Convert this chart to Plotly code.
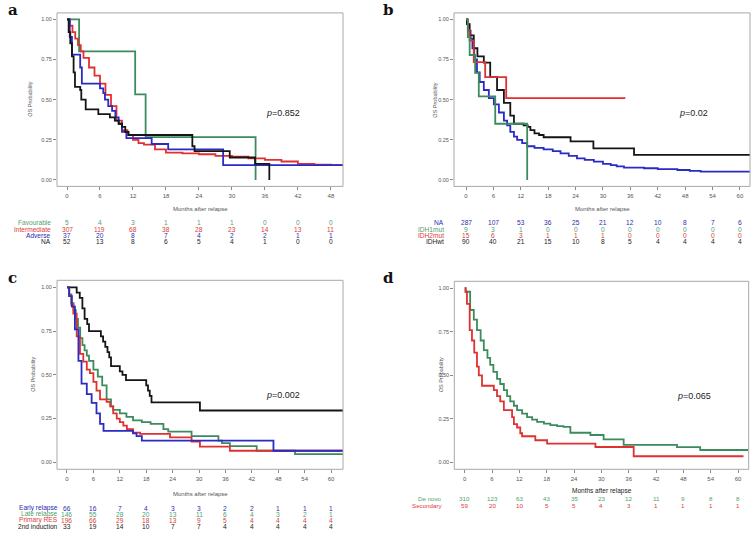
import plotly.graph_objects as go

W, H = 754, 536          # picture size

GREEN = "#3b8b5c"
RED = "#e03030"
BLUE = "#2a2ac4"
BLACK = "#151515"
GREEN_T = "#4f9f70"
RED_T = "#e03a3a"
BLUE_T = "#2c2cb0"
BLACK_T = "#222222"

# ---------------- Panel a data ----------------
a_ticks = [0, 6, 12, 18, 24, 30, 36, 42, 48]
a_groups = ["Favourable", "Intermediate", "Adverse", "NA"]
a_fav_t = [0, 2.2, 12.4, 14.3, 34.3]
a_fav_s = [1.0, 0.8, 0.533, 0.267, 0.0]
a_int_t = [0, 0.5, 1, 1.5, 2, 2.5, 3, 4, 5, 6, 7, 8, 9, 10, 11, 12, 13, 14, 16, 18, 21, 24, 27, 30, 33, 36, 39, 42, 45, 48, 50.2]
a_int_s = [1.0, 0.96, 0.92, 0.88, 0.84, 0.80, 0.76, 0.70, 0.65, 0.60, 0.53, 0.46, 0.37, 0.31, 0.28, 0.25, 0.23, 0.22, 0.19, 0.17, 0.165, 0.16, 0.15, 0.145, 0.135, 0.125, 0.115, 0.10, 0.095, 0.093, 0.093]
a_adv_t = [0, 0.5, 0.9, 2.4, 2.7, 6.0, 6.6, 6.9, 7.5, 8.2, 8.8, 9.4, 10.0, 10.8, 15.4, 18.4, 28.4, 50.2]
a_adv_s = [1.0, 0.89, 0.78, 0.70, 0.60, 0.57, 0.54, 0.50, 0.46, 0.43, 0.39, 0.35, 0.30, 0.26, 0.224, 0.19, 0.093, 0.093]
a_na_t = [0, 0.3, 0.6, 0.9, 1.2, 1.45, 2.4, 2.6, 3.4, 5.7, 7.8, 8.7, 9.4, 10.0, 10.6, 11.2, 22.8, 23.2, 29.6, 34.2, 36.8]
a_na_s = [1.0, 0.92, 0.85, 0.77, 0.67, 0.58, 0.56, 0.50, 0.44, 0.41, 0.39, 0.37, 0.35, 0.33, 0.30, 0.28, 0.21, 0.18, 0.14, 0.10, 0.0]
a_risk_fav = [5, 4, 3, 1, 1, 1, 0, 0, 0]
a_risk_int = [307, 119, 68, 38, 28, 23, 14, 13, 11]
a_risk_adv = [37, 20, 8, 7, 4, 2, 2, 1, 1]
a_risk_na = [52, 13, 8, 6, 5, 4, 1, 0, 0]

# ---------------- Panel b data ----------------
b_ticks = [0, 6, 12, 18, 24, 30, 36, 42, 48, 54, 60]
b_groups = ["NA", "IDH1mut", "IDH2mut", "IDHwt"]
b_na_t = [0, 0.2, 0.6, 1.0, 1.4, 1.8, 2.4, 3.0, 3.9, 5.0, 6.1, 7.2, 8.3, 9.0, 9.7, 10.5, 11.2, 12.3, 13.4, 15, 17, 19, 20.7, 22.5, 24.3, 26, 28, 30, 31.7, 33, 34.6, 39, 42, 46.3, 49, 51.4, 62.2]
b_na_s = [1.0, 0.97, 0.93, 0.88, 0.82, 0.75, 0.67, 0.61, 0.56, 0.51, 0.47, 0.42, 0.37, 0.34, 0.30, 0.27, 0.25, 0.23, 0.21, 0.20, 0.19, 0.18, 0.166, 0.15, 0.135, 0.125, 0.114, 0.10, 0.093, 0.085, 0.077, 0.073, 0.068, 0.062, 0.057, 0.052, 0.052]
b_idh1_t = [0, 0.4, 0.8, 2.0, 2.8, 6.4, 13.4]
b_idh1_s = [1.0, 0.889, 0.778, 0.667, 0.52, 0.35, 0.0]
b_idh2_t = [0, 0.4, 0.8, 1.7, 4.2, 8.8, 34.9]
b_idh2_s = [1.0, 0.933, 0.867, 0.733, 0.64, 0.51, 0.51]
b_wt_t = [0, 0.2, 0.8, 1.7, 2.5, 3.9, 5.3, 6.8, 8.3, 9.7, 10.5, 12.6, 13.5, 14.1, 15.0, 16.0, 17.0, 22.9, 27.9, 36.8, 62.2]
b_wt_s = [1.0, 0.97, 0.90, 0.82, 0.77, 0.73, 0.64, 0.56, 0.48, 0.40, 0.35, 0.34, 0.33, 0.31, 0.29, 0.28, 0.266, 0.24, 0.197, 0.156, 0.156]
b_risk_na = [287, 107, 53, 36, 25, 21, 12, 10, 8, 7, 6]
b_risk_idh1 = [9, 3, 1, 0, 0, 0, 0, 0, 0, 0, 0]
b_risk_idh2 = [15, 6, 3, 1, 1, 1, 0, 0, 0, 0, 0]
b_risk_wt = [90, 40, 21, 15, 10, 8, 5, 4, 4, 4, 4]

# ---------------- Panel c data ----------------
c_ticks = [0, 6, 12, 18, 24, 30, 36, 42, 48, 54, 60]
c_groups = ["Early relapse", "Late relapse", "Primary RES", "2nd induction"]
c_early_t = [0, 0.5, 1.1, 1.8, 2.6, 3.3, 4.5, 5.6, 6.7, 7.5, 8.3, 15.0, 15.8, 17.0, 46.9, 62.7]
c_early_s = [1.0, 0.95, 0.89, 0.76, 0.58, 0.45, 0.39, 0.34, 0.28, 0.22, 0.18, 0.165, 0.15, 0.124, 0.066, 0.066]
c_late_t = [0, 0.5, 1.0, 1.5, 2.0, 2.5, 3.0, 3.5, 4.0, 4.5, 5.0, 6.0, 7.0, 8.0, 9.0, 10.0, 10.5, 12.0, 13.5, 15.0, 17.0, 19.0, 21.9, 23.0, 28.3, 34.4, 35.2, 37.0, 43.1, 51.8, 62.7]
c_late_s = [1.0, 0.96, 0.91, 0.87, 0.82, 0.77, 0.71, 0.67, 0.64, 0.61, 0.58, 0.53, 0.49, 0.44, 0.36, 0.32, 0.30, 0.28, 0.26, 0.24, 0.23, 0.22, 0.19, 0.175, 0.15, 0.124, 0.11, 0.093, 0.066, 0.047, 0.047]
c_prim_t = [0, 0.5, 1.0, 1.44, 2.2, 2.95, 3.7, 4.5, 5.2, 6.0, 6.7, 7.5, 9.0, 9.8, 10.5, 11.3, 12.0, 12.8, 13.6, 15.0, 16.6, 23.4, 28.3, 30.2, 37.0, 62.7]
c_prim_s = [1.0, 0.95, 0.90, 0.85, 0.72, 0.62, 0.575, 0.53, 0.51, 0.46, 0.41, 0.36, 0.345, 0.32, 0.28, 0.25, 0.23, 0.21, 0.19, 0.17, 0.162, 0.143, 0.118, 0.09, 0.066, 0.066]
c_2nd_t = [0, 2.2, 2.9, 3.5, 4.0, 4.6, 5.0, 7.7, 8.2, 8.7, 9.2, 9.6, 10.0, 12.0, 12.6, 13.4, 18.0, 18.4, 18.8, 19.2, 30.2, 62.7]
c_2nd_s = [1.0, 0.97, 0.94, 0.88, 0.82, 0.79, 0.75, 0.72, 0.69, 0.66, 0.63, 0.60, 0.55, 0.52, 0.50, 0.47, 0.44, 0.41, 0.38, 0.343, 0.296, 0.296]
c_risk_early = [66, 16, 7, 4, 3, 3, 2, 2, 1, 1, 1]
c_risk_late = [146, 55, 28, 20, 13, 11, 6, 4, 3, 2, 1]
c_risk_prim = [196, 66, 29, 18, 13, 9, 5, 4, 4, 4, 4]
c_risk_2nd = [33, 19, 14, 10, 7, 7, 4, 4, 4, 4, 4]

# ---------------- Panel d data ----------------
d_ticks = [0, 6, 12, 18, 24, 30, 36, 42, 48, 54, 60]
d_groups = ["De novo", "Secondary"]
d_dn_t = [0, 0.2, 1.2, 2.0, 2.7, 3.5, 4.2, 5.0, 5.6, 6.3, 7.1, 7.8, 8.6, 9.3, 10.0, 10.8, 11.5, 12.6, 13.7, 14.8, 15.9, 17.4, 18.8, 20.3, 21.7, 23.2, 27.6, 30.5, 34.9, 46.6, 51.7, 62.3]
d_dn_s = [1.0, 0.98, 0.875, 0.82, 0.76, 0.70, 0.645, 0.60, 0.56, 0.52, 0.48, 0.45, 0.415, 0.38, 0.35, 0.325, 0.30, 0.28, 0.26, 0.245, 0.233, 0.222, 0.214, 0.208, 0.204, 0.17, 0.157, 0.132, 0.10, 0.087, 0.071, 0.071]
d_sec_t = [0, 0.2, 0.5, 1.1, 1.6, 2.1, 2.7, 3.1, 3.8, 6.4, 7.1, 7.8, 8.6, 10.4, 10.8, 11.5, 12.2, 12.6, 15.5, 18.1, 28.7, 37.1, 61.2]
d_sec_s = [1.0, 0.98, 0.91, 0.76, 0.70, 0.63, 0.55, 0.50, 0.44, 0.415, 0.38, 0.35, 0.30, 0.26, 0.22, 0.20, 0.167, 0.15, 0.127, 0.107, 0.088, 0.035, 0.035]
d_risk_dn = [310, 123, 63, 43, 35, 23, 12, 11, 9, 8, 8]
d_risk_sec = [59, 20, 10, 5, 5, 4, 3, 1, 1, 1, 1]

p_values = {"a": "0.852", "b": "0.02", "c": "0.002", "d": "0.065"}

# ---------------- figure building ----------------
def fx(px):
    return px / W

def fy(py):
    return 1 - py / H

FONT = "Liberation Sans, Arial, sans-serif"
TBL = 6.6

panels = [
    dict(key="a", n="", xpx=(57, 343), ypx=(12.9, 186.4), xr=(-1.82, 50.2), ticks=a_ticks,
         curves=[(a_fav_t, a_fav_s, GREEN), (a_int_t, a_int_s, RED), (a_adv_t, a_adv_s, BLUE), (a_na_t, a_na_s, BLACK)],
         table=[(a_groups[0], a_risk_fav, GREEN_T), (a_groups[1], a_risk_int, RED_T), (a_groups[2], a_risk_adv, BLUE_T), (a_groups[3], a_risk_na, BLACK_T)],
         rows_y=[222.7, 229, 235.3, 241.8], lab_x=53.5, xt_y=209, letter=(6, 10), ytitle_x=30, p=(283, 113), boldtitle=False, tsize=TBL),
    dict(key="b", n="2", xpx=(454, 750), ypx=(12.9, 186.4), xr=(-2.63, 62.2), ticks=b_ticks,
         curves=[(b_na_t, b_na_s, BLUE), (b_wt_t, b_wt_s, BLACK), (b_idh2_t, b_idh2_s, RED), (b_idh1_t, b_idh1_s, GREEN)],
         table=[(b_groups[0], b_risk_na, BLUE_T), (b_groups[1], b_risk_idh1, GREEN_T), (b_groups[2], b_risk_idh2, RED_T), (b_groups[3], b_risk_wt, BLACK_T)],
         rows_y=[222.7, 229, 235.3, 241.8], lab_x=445.5, xt_y=209, letter=(381, 10), ytitle_x=435, p=(693, 113), boldtitle=False, tsize=TBL),
    dict(key="c", n="3", xpx=(57, 343), ypx=(280.3, 469.3), xr=(-2.27, 62.7), ticks=c_ticks,
         curves=[(c_2nd_t, c_2nd_s, BLACK), (c_late_t, c_late_s, GREEN), (c_prim_t, c_prim_s, RED), (c_early_t, c_early_s, BLUE)],
         table=[(c_groups[0], c_risk_early, BLUE_T), (c_groups[1], c_risk_late, GREEN_T), (c_groups[2], c_risk_prim, RED_T), (c_groups[3], c_risk_2nd, BLACK_T)],
         rows_y=[508.3, 514.3, 520.3, 526.7], lab_x=59.5, xt_y=494, letter=(6, 278), ytitle_x=33, p=(283, 395), boldtitle=False, tsize=TBL),
    dict(key="d", n="4", xpx=(454.3, 748.7), ypx=(281.3, 469.3), xr=(-2.28, 62.35), ticks=d_ticks,
         curves=[(d_dn_t, d_dn_s, GREEN), (d_sec_t, d_sec_s, RED)],
         table=[(d_groups[0], d_risk_dn, GREEN_T), (d_groups[1], d_risk_sec, RED_T)],
         rows_y=[498.6, 505.2], lab_x=444, xt_y=491, letter=(381, 278), ytitle_x=441, p=(694, 396), boldtitle=True, tsize=6.2),
]

fig = go.Figure()
annotations = []
shapes = []
layout_axes = {}

for P in panels:
    n = P["n"]
    xa = "x" + n
    ya = "y" + n
    for t, s, col in P["curves"]:
        fig.add_trace(go.Scatter(x=t, y=s, mode="lines", line=dict(color=col, width=1.8, shape="hv"),
                                 xaxis=xa, yaxis=ya, showlegend=False, hoverinfo="skip"))
    layout_axes["xaxis" + n] = dict(
        domain=[fx(P["xpx"][0]), fx(P["xpx"][1])], range=list(P["xr"]), anchor=ya,
        showgrid=False, zeroline=False, showline=False, ticks="outside", ticklen=3, tickwidth=1,
        tickcolor="#888888", tickvals=P["ticks"], ticktext=[str(v) for v in P["ticks"]],
        tickfont=dict(size=6, color="#555555", family=FONT))
    layout_axes["yaxis" + n] = dict(
        domain=[fy(P["ypx"][1]), fy(P["ypx"][0])], range=[-0.04, 1.04], anchor=xa,
        showgrid=False, zeroline=False, showline=False, ticks="outside", ticklen=3, tickwidth=1,
        tickcolor="#888888", tickvals=[0, 0.25, 0.5, 0.75, 1.0],
        ticktext=["0.00", "0.25", "0.50", "0.75", "1.00"],
        tickfont=dict(size=5.5, color="#555555", family=FONT))
    shapes.append(dict(type="rect", xref=xa + " domain", yref=ya + " domain", x0=0, x1=1, y0=0, y1=1,
                       line=dict(color="#a8a8a8", width=1)))
    lx, ly = P["letter"]
    annotations.append(dict(text="<b>%s</b>" % P["key"], xref="paper", yref="paper", x=fx(lx), y=fy(ly),
                            xanchor="left", yanchor="middle", showarrow=False,
                            font=dict(size=15, family="DejaVu Serif, serif", color="#111111")))
    annotations.append(dict(text="OS Probability", xref="paper", yref="paper", x=fx(P["ytitle_x"]),
                            y=fy((P["ypx"][0] + P["ypx"][1]) / 2), textangle=-90, showarrow=False,
                            xanchor="center", yanchor="middle",
                            font=dict(size=5.5, color="#555555", family=FONT)))
    annotations.append(dict(text="Months after relapse", xref=xa + " domain", yref="paper", x=0.5, y=fy(P["xt_y"]),
                            showarrow=False, xanchor="center", yanchor="middle",
                            font=dict(size=6.5 if P["boldtitle"] else 6,
                                      color="#222222" if P["boldtitle"] else "#555555", family=FONT)))
    px_, py_ = P["p"]
    annotations.append(dict(text="<i>p</i>=%s" % p_values[P["key"]], xref="paper", yref="paper",
                            x=fx(px_), y=fy(py_), showarrow=False, xanchor="center", yanchor="middle",
                            font=dict(size=9, color="#222222", family=FONT)))
    for (label, vals, col), ry in zip(P["table"], P["rows_y"]):
        annotations.append(dict(text=label, xref="paper", yref="paper", x=fx(P["lab_x"]), y=fy(ry),
                                xanchor="right", yanchor="middle", showarrow=False,
                                font=dict(size=P["tsize"], color=col, family=FONT)))
        for tv, v in zip(P["ticks"], vals):
            annotations.append(dict(text=str(v), xref=xa, yref="paper", x=tv, y=fy(ry),
                                    xanchor="center", yanchor="middle", showarrow=False,
                                    font=dict(size=P["tsize"], color=col, family=FONT)))

fig.update_layout(
    width=W, height=H, margin=dict(l=0, r=0, t=0, b=0),
    paper_bgcolor="white", plot_bgcolor="white",
    annotations=annotations, shapes=shapes, showlegend=False,
    **layout_axes)

# remove the browser's default page margin so the figure sits at the window's corner
fig.write_html("out.html", config={"displayModeBar": False, "staticPlot": True},
               post_script="document.body.style.margin='0px';document.body.style.overflow='hidden';")
